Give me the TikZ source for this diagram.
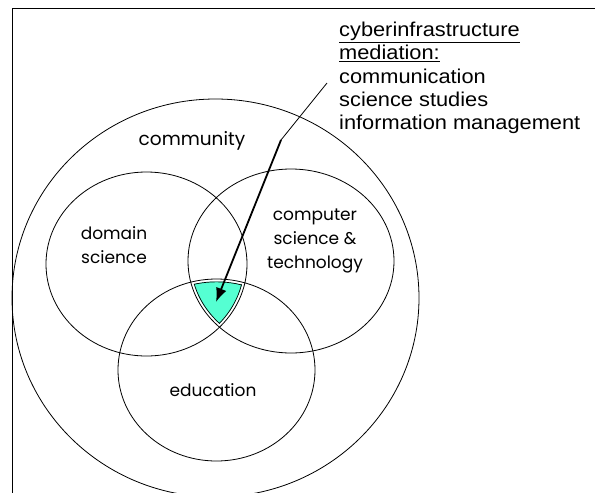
\documentclass[tikz,border=0pt]{standalone}
\usepackage{fontspec}
\setmainfont{Liberation Sans}
\newfontfamily\notefont[FakeStretch=1.09]{Liberation Sans}
\newfontfamily\handfont{Poppins}
\usetikzlibrary{arrows.meta}

\definecolor{overlap}{RGB}{85,255,210}

\tikzset{
  field/.style={draw, line width=0.8pt},
  inset/.style={draw, line width=1.4pt},
  fieldlabel/.style={font=\handfont\fontsize{17}{24}\selectfont, align=center, inner sep=0pt},
  lead/.style={line width=0.8pt},
  pointer/.style={line width=1.8pt, -{Latex[length=14pt,width=11pt]}}
}

\begin{document}
\begin{tikzpicture}[x=1pt, y=-1pt]
  \useasboundingbox (0,0) rectangle (595,493);
  \clip (0,0) rectangle (595,493);

  % frame, running off the page on the right and at the bottom
  \draw[line width=0.8pt] (12,8) rectangle (640,540);

  % shared part of the three fields
  \begin{scope}
    \clip (146.5,264) ellipse [x radius=98, y radius=89.5];
    \clip (291,261) ellipse [x radius=100.5, y radius=89.5];
    \clip (216.5,370) ellipse [x radius=96, y radius=88.5];
    \fill[overlap] (216.5,370) ellipse [x radius=96, y radius=88.5];
    \draw[inset] (146.5,264) ellipse [x radius=98, y radius=89.5];
    \draw[inset] (291,261) ellipse [x radius=100.5, y radius=89.5];
    \draw[inset] (216.5,370) ellipse [x radius=96, y radius=88.5];
  \end{scope}

  % community and the three fields
  \draw[field] (215.5,298) ellipse [x radius=203.5, y radius=199];
  \draw[field] (146.5,264) ellipse [x radius=100.5, y radius=92];
  \draw[field] (291,261) ellipse [x radius=103, y radius=92];
  \draw[field] (216.5,370) ellipse [x radius=98.5, y radius=91];

  % labels
  \node[fieldlabel, font=\handfont\fontsize{18.5}{24}\selectfont] (community) at (192,141) {community};
  \node[fieldlabel] (domain) at (114,245) {domain\\science};
  \node[fieldlabel] (computer) at (315,241) {computer\\science \&\\technology};
  \node[fieldlabel] (education) at (213,390) {education};

  \node[anchor=north west, align=left, inner sep=0pt,
        font=\notefont\fontsize{20}{23.3}\selectfont] (mediation) at (339,22)
    {\underline{cyberinfrastructure}\\\underline{mediation:}\\communication\\science studies\\information management};

  % pointer into the overlap
  \coordinate (start) at (327,83);
  \coordinate (bend) at (281,140);
  \coordinate (tip) at (216,302);
  \draw[lead] (start) -- (bend);
  \draw[pointer] (bend) -- (tip);
\end{tikzpicture}
\end{document}
